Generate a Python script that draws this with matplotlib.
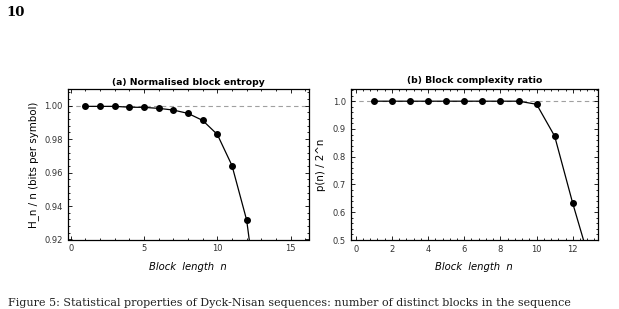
import matplotlib
matplotlib.use("Agg")
from matplotlib import pyplot as plt
from matplotlib.ticker import AutoMinorLocator

# block length n
n_a = [1, 2, 3, 4, 5, 6, 7, 8, 9, 10, 11, 12, 13]
# normalised block entropy H_n / n
h_norm = [0.9996, 0.9996, 0.9996, 0.9991, 0.9990, 0.9984, 0.9974, 0.9954,
          0.9912, 0.9828, 0.9642, 0.9316, 0.865]

n_b = [1, 2, 3, 4, 5, 6, 7, 8, 9, 10, 11, 12, 13]
# block complexity ratio p(n) / 2^n
p_ratio = [1.0, 1.0, 1.0, 1.0, 1.0, 1.0, 1.0, 1.0, 1.0, 0.989, 0.874, 0.632, 0.41]

plt.rcParams['font.family'] = ['DejaVu Sans']

fig = plt.figure(figsize=(6.19, 3.09), dpi=100)

# axes positions (in figure fractions)
W, H = 619, 309
ax_a = fig.add_axes([67.7 / W, 1 - 239.5 / H, (309 - 67.7) / W, (239.5 - 89.3) / H])
ax_b = fig.add_axes([350.7 / W, 1 - 240 / H, (597.7 - 350.7) / W, (240 - 88.7) / H])


def style_axis(ax):
    ax.tick_params(which='both', direction='in', top=True, right=True,
                   labelsize=6, labelcolor='#333333', width=0.6)
    ax.tick_params(which='major', length=3)
    ax.tick_params(which='minor', length=1.5)
    ax.xaxis.set_minor_locator(AutoMinorLocator(5))
    ax.yaxis.set_minor_locator(AutoMinorLocator(5))
    for s in ax.spines.values():
        s.set_linewidth(0.9)


# (a) normalised block entropy
ax_a.axhline(1.0, color='#a0a0a0', lw=0.8, ls=(0, (4, 3)), zorder=1)
ax_a.plot(n_a, h_norm, color='black', lw=0.9, marker='o', ms=4, zorder=3)
ax_a.set_xlim(-0.2, 16.25)
ax_a.set_ylim(0.92, 1.0098)
ax_a.set_xticks([0, 5, 10, 15])
ax_a.set_yticks([0.92, 0.94, 0.96, 0.98, 1.00])
ax_a.set_yticklabels(['0.92', '0.94', '0.96', '0.98', '1.00'])
ax_a.set_title('(a) Normalised block entropy', fontsize=6.7, fontweight='bold', pad=3)
ax_a.set_ylabel('H_n / n (bits per symbol)', fontsize=7.4, labelpad=4)
ax_a.set_xlabel('Block  length  n', fontsize=7.2, style='italic', labelpad=6)
style_axis(ax_a)

# (b) block complexity ratio
ax_b.axhline(1.0, color='#a0a0a0', lw=0.8, ls=(0, (4, 3)), zorder=1)
ax_b.plot(n_b, p_ratio, color='black', lw=0.9, marker='o', ms=4, zorder=3)
ax_b.set_xlim(-0.28, 13.38)
ax_b.set_ylim(0.5, 1.045)
ax_b.set_xticks([0, 2, 4, 6, 8, 10, 12])
ax_b.set_yticks([0.5, 0.6, 0.7, 0.8, 0.9, 1.0])
ax_b.set_title('(b) Block complexity ratio', fontsize=6.7, fontweight='bold', pad=4)
ax_b.set_ylabel('p(n) / 2^n', fontsize=7.4, labelpad=5)
ax_b.set_xlabel('Block  length  n', fontsize=7.2, style='italic', labelpad=6)
style_axis(ax_b)

# page number
fig.text(6 / W, 1 - 13 / H, '10', fontsize=9.5, fontweight='bold',
         family='DejaVu Serif', va='center', ha='left')

# caption line at the foot of the page crop
fig.text(8 / W, 3 / H, 'Figure 5: Statistical properties of Dyck-Nisan sequences: number of distinct blocks in the sequence',
         fontsize=8.0, family='DejaVu Serif', color='#222222', va='baseline', ha='left')

fig.savefig('out.png', dpi=100)
